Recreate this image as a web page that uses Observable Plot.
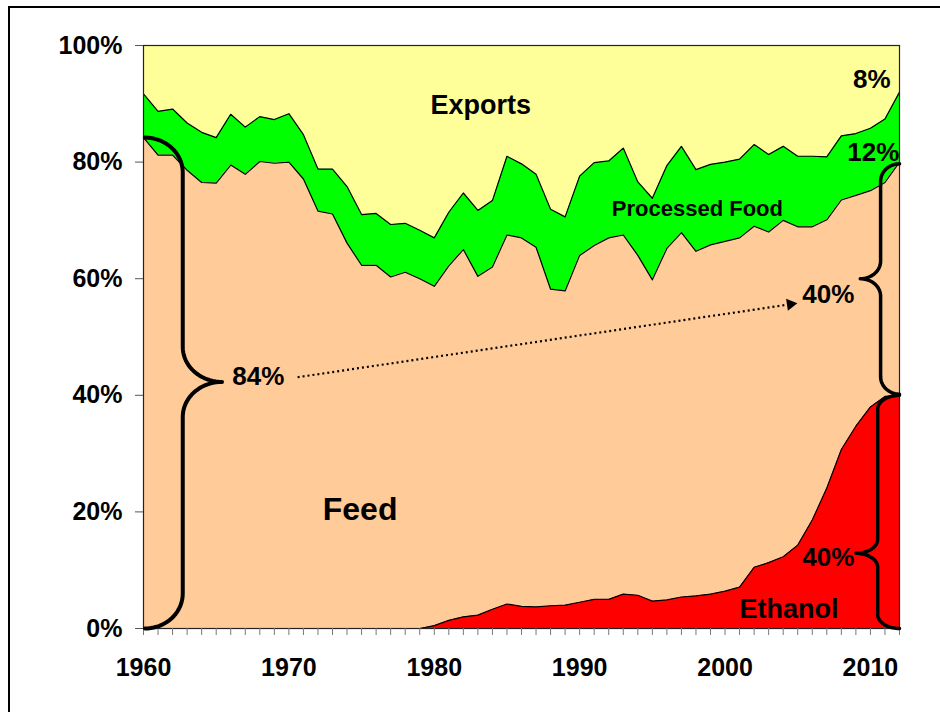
<!DOCTYPE html>
<html><head><meta charset="utf-8">
<script src="https://cdn.jsdelivr.net/npm/d3@7"></script>
<script src="https://cdn.jsdelivr.net/npm/@observablehq/plot@0.6"></script>
<style>
html,body{margin:0;padding:0;background:#fff;}
#wrap{position:relative;width:940px;height:712px;overflow:hidden;}
#border{position:absolute;left:8px;top:6px;width:1000px;height:800px;border-top:2px solid #000;border-left:2px solid #000;pointer-events:none;z-index:2;}
</style></head><body><div id="wrap"><div id="border"></div></div>
<script>
const years = d3.range(1960, 2013);
const uses = ["Ethanol", "Feed", "Processed Food", "Exports"];
const useColors = ["#ff0000", "#ffcc99", "#00ff00", "#ffff99"];

const ethanol = [0,0,0,0,0,0,0,0,0,0, 0,0,0,0,0,0,0,0,0,0,
  0.5,1.4,2.0,2.3,3.3,4.2,3.8,3.7,3.9,4.0,
  4.5,5.0,5.0,5.9,5.7,4.7,4.9,5.4,5.6,5.9,
  6.4,7.1,10.5,11.3,12.3,14.3,18.6,24.1,30.7,34.7,
  38.0,39.8,40.0];
const feed = [84.2,81.2,81.2,78.6,76.5,76.4,79.5,77.9,80.1,79.8,
  80.0,77.1,71.6,71.1,66.1,62.3,62.3,60.3,61.1,60.0,
  58.2,60.8,63.0,58.1,58.7,63.3,63.2,61.7,54.3,53.9,
  59.5,60.7,62.0,61.6,58.3,55.1,60.3,62.5,59.1,59.9,
  60.0,59.9,58.5,56.7,57.7,54.6,50.3,46.0,42.8,39.6,
  37.1,36.7,40.0];
const processedFood = [7.5,7.5,7.9,8.1,8.6,7.8,8.7,8.1,7.7,7.5,
  8.3,7.6,7.2,7.7,9.7,8.7,8.9,9.0,8.4,8.3,
  8.3,9.2,9.7,11.3,11.4,13.5,12.7,12.5,13.7,12.7,
  13.6,14.2,13.2,14.9,12.6,14.0,14.2,14.8,14.0,13.8,
  13.6,13.5,14.0,13.3,12.7,12.1,12.1,10.8,11.0,10.6,
  10.7,10.9,12.0];
const exportsShare = [8.3,11.3,10.9,13.3,14.9,15.8,11.8,14.0,12.2,12.7,
  11.7,15.3,21.2,21.2,24.2,29.0,28.8,30.7,30.5,31.7,
  33.0,28.6,25.3,28.3,26.6,19.0,20.3,22.1,28.1,29.4,
  22.4,20.1,19.8,17.6,23.4,26.2,20.6,17.3,21.3,20.4,
  20.0,19.5,17.0,18.7,17.3,19.0,19.0,19.1,15.5,15.1,
  14.2,12.6,8.0];

const yTicks = [0, 20, 40, 60, 80, 100];
const xLabelTicks = [1960, 1970, 1980, 1990, 2000, 2010];

const labels = [
  {text: "Exports", x: 1983.2, y: 89.7, size: 27},
  {text: "Processed Food", x: 1998.1, y: 71.9, size: 22},
  {text: "Feed", x: 1974.9, y: 20.3, size: 32},
  {text: "Ethanol", x: 2004.4, y: 3.2, size: 27},
  {text: "84%", x: 1967.9, y: 43.2, size: 26},
  {text: "40%", x: 2007.1, y: 57.2, size: 26},
  {text: "40%", x: 2007.1, y: 12.2, size: 26},
  {text: "8%", x: 2010.1, y: 94.2, size: 26},
  {text: "12%", x: 2010.2, y: 81.6, size: 26}
];

const braces = [
  {id: "feed1960", xEnd: 1960.1, xBar: 1962.7, xTip: 1965.4, yTop: 84.2, yBot: 0, yTip: 42.3, ry: 6.0, w: 4},
  {id: "feed2012", xEnd: 2012, xBar: 2010.7, xTip: 2009.3, yTop: 79.7, yBot: 40.2, yTip: 60, ry: 3.0, w: 3.5},
  {id: "eth2012", xEnd: 2012, xBar: 2010.5, xTip: 2009.0, yTop: 40.0, yBot: 0, yTip: 12.9, ry: 2.4, w: 3.5}
];
const trend = [{x1: 1970.6, y1: 43.1, x2: 2004.2, y2: 55.5}];
const trendHead = [{x: 2004.5, y: 55.6}];

const series = [ethanol, feed, processedFood, exportsShare];
const rows = [];
uses.forEach((u, i) => years.forEach((yr, j) => rows.push({year: yr, use: u, value: series[i][j]})));

function bracePoints(b) {
  const pts = [];
  const arc = (cx, cy, rx, ry, t0, t1) => {
    for (let i = 0; i <= 20; i++) {
      const t = (t0 + (t1 - t0) * i / 20) * Math.PI / 180;
      pts.push({x: cx + rx * Math.cos(t), y: cy + ry * Math.sin(t), id: b.id, w: b.w});
    }
  };
  const r1 = b.xBar - b.xEnd, r2 = b.xTip - b.xBar;
  arc(b.xEnd, b.yTop - b.ry, r1, b.ry, 90, 0);
  arc(b.xTip, b.yTip + b.ry, r2, b.ry, 180, 270);
  arc(b.xTip, b.yTip - b.ry, r2, b.ry, 90, 180);
  arc(b.xEnd, b.yBot + b.ry, r1, b.ry, 0, -90);
  return pts;
}

const font = "'Liberation Sans', Arial, Helvetica, sans-serif";
const marks = [
  Plot.areaY(rows, {x: "year", y: "value", fill: "use", z: "use", order: uses}),
  Plot.lineY(rows.filter(d => d.use !== "Exports"),
    Plot.stackY2({x: "year", y: "value", z: "use", order: uses, stroke: "#000", strokeWidth: 1.2})),
  Plot.frame({stroke: "#222", strokeWidth: 1.2}),
  Plot.axisY({ticks: yTicks, tickSize: 8, tickPadding: 13, tickFormat: d => d + "%", fontSize: 25, fontWeight: "bold", stroke: "#555", label: null}),
  Plot.axisX({ticks: years, tickSize: 7, tickFormat: () => "", stroke: "#777", label: null}),
  Plot.axisX({ticks: xLabelTicks, tickSize: 0, tickPadding: 30, tickFormat: d => String(d), fontSize: 25, fontWeight: "bold", label: null}),
  Plot.link(trend, {x1: "x1", y1: "y1", x2: "x2", y2: "y2", stroke: "#000", strokeWidth: 2.2, strokeDasharray: "2 3"}),
  Plot.dot(trendHead, {x: "x", y: "y", symbol: "triangle", r: 4.5, fill: "#000", stroke: "none", rotate: 81.6})
];
braces.forEach(b => marks.push(Plot.line(bracePoints(b), {x: "x", y: "y", stroke: "#000", strokeWidth: b.w, strokeLinecap: "round", strokeLinejoin: "round"})));
[22, 26, 27, 32].forEach(s => marks.push(Plot.text(labels.filter(d => d.size === s), {x: "x", y: "y", text: "text", fontSize: s, fontWeight: "bold", fill: "#000"})));

const chart = Plot.plot({
  width: 940,
  height: 712,
  marginLeft: 143,
  marginRight: 41,
  marginTop: 45,
  marginBottom: 84,
  x: {domain: [1960, 2012]},
  y: {domain: [0, 100]},
  color: {domain: uses, range: useColors},
  style: {fontFamily: font, fontWeight: "bold", color: "#000", background: "#fff"},
  marks
});
document.getElementById("wrap").insertBefore(chart, document.getElementById("border"));
</script>
</body></html>
